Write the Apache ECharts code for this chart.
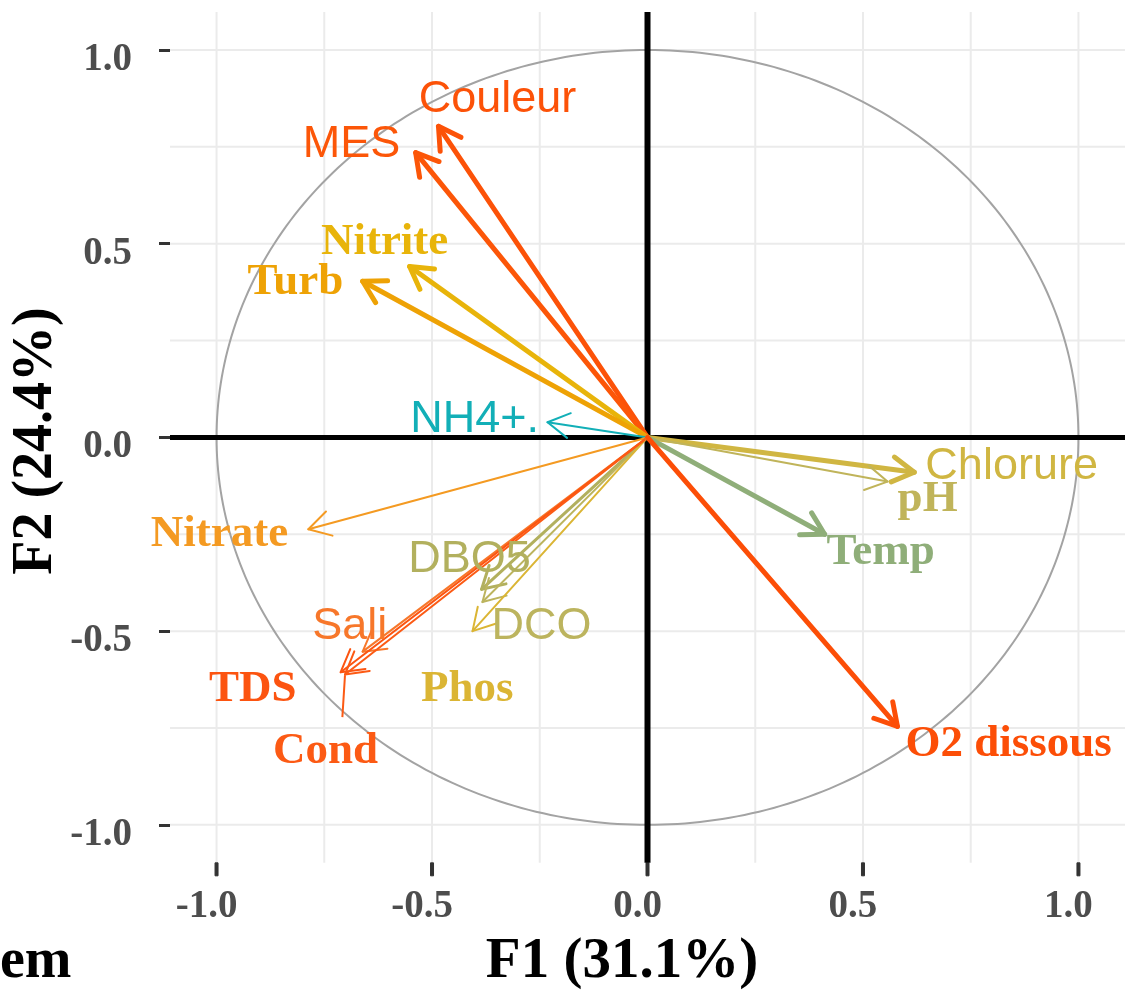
<!DOCTYPE html>
<html>
<head>
<meta charset="utf-8">
<title>Cercle des corrélations</title>
<script src="https://cdn.jsdelivr.net/npm/echarts@6/dist/echarts.min.js"></script>
<style>
  html, body { margin: 0; padding: 0; background: #fff; }
  #main { width: 1129px; height: 994px; }
</style>
</head>
<body>
<div id="main"></div>
<script>
// variables (ACP, cercle des corrélations F1 x F2)
var variables = ['Couleur', 'MES', 'Nitrite', 'Turb', 'NH4+.', 'Nitrate', 'DBO5', 'DCO', 'Phos',
  'Sali', 'TDS', 'Cond', 'Chlorure', 'pH', 'Temp', 'O2 dissous'];
var f1 = [-0.485, -0.538, -0.552, -0.661, -0.232, -0.787, -0.385, -0.383, -0.406,
  -0.661, -0.712, -0.702, 0.619, 0.557, 0.411, 0.580];
var f2 = [0.803, 0.735, 0.441, 0.403, 0.039, -0.237, -0.392, -0.425, -0.500,
  -0.553, -0.606, -0.612, -0.090, -0.114, -0.250, -0.746];
// label positions (repelled)
var labelF1 = [-0.348, -0.687, -0.610, -0.817, -0.401, -0.993, -0.413, -0.246, -0.418,
  -0.691, -0.916, -0.747, 0.845, 0.650, 0.541, 0.838];
var labelF2 = [0.872, 0.756, 0.503, 0.400, 0.046, -0.250, -0.315, -0.488, -0.650,
  -0.488, -0.650, -0.810, -0.075, -0.160, -0.297, -0.793];
// segment linking "Cond" label to its arrow
var repelSegment = [[-0.708, -0.722], [-0.702, -0.614]];

var tickValues = [-1, -0.5, 0, 0.5, 1];
var gridValues = [-1, -0.75, -0.5, -0.25, 0, 0.25, 0.5, 0.75, 1];

// panel limits (the y axis goes a bit lower to leave room for the x ticks)
var xLim = [-1.108, 1.108];
var yLim = [-1.098, 1.098];
var yAxisMin = -1.132;

// styles
var colors = {
  'Couleur': '#fc5208', 'MES': '#fc5608', 'Nitrite': '#e8b40a', 'Turb': '#eea205',
  'NH4+.': '#12afb7', 'Nitrate': '#f49a22', 'DBO5': '#b2b05e', 'DCO': '#bcb45e',
  'Phos': '#dbb534', 'Sali': '#f7772a', 'TDS': '#fc5410', 'Cond': '#fc5a14',
  'Chlorure': '#d0b642', 'pH': '#c0b45a', 'Temp': '#8fae79', 'O2 dissous': '#fc4e07'
};
var widths = {
  'Couleur': 5, 'MES': 5, 'Nitrite': 5, 'Turb': 5, 'NH4+.': 2, 'Nitrate': 2,
  'DBO5': 3, 'DCO': 2, 'Phos': 2, 'Sali': 2, 'TDS': 2, 'Cond': 2,
  'Chlorure': 5, 'pH': 2, 'Temp': 5, 'O2 dissous': 5
};
var serifLabels = ['Nitrite', 'Turb', 'Nitrate', 'TDS', 'Phos', 'Cond', 'pH', 'Temp', 'O2 dissous'];

var chart = echarts.init(document.getElementById('main'));

// grid lines, plus the x ticks under the panel
function renderGrid(params, api) {
  var cs = params.coordSys;
  var v = api.value(0);
  var top = api.coord([v, yLim[1]]);
  var bot = api.coord([v, yLim[0]]);
  var py = api.coord([0, v])[1];
  var st = { stroke: '#ebebeb', lineWidth: 2 };
  var children = [
    { type: 'line', shape: { x1: top[0], y1: top[1], x2: bot[0], y2: bot[1] }, style: st },
    { type: 'line', shape: { x1: cs.x, y1: py, x2: cs.x + cs.width, y2: py }, style: st }
  ];
  if (tickValues.indexOf(v) >= 0) {
    children.push({
      type: 'polyline', z2: 50,
      shape: { points: [[bot[0] - 1.5, bot[1]], [bot[0] + 1.5, bot[1]], [bot[0] + 1.5, bot[1] + 13], [bot[0] - 1.5, bot[1] + 13], [bot[0] - 1.5, bot[1]]] },
      style: { stroke: '#333', lineWidth: 1, fill: '#333' }
    });
  }
  return { type: 'group', children: children };
}

function renderCircle(params, api) {
  var pts = [];
  for (var k = 0; k <= 360; k++) {
    var a = k * Math.PI / 180;
    pts.push(api.coord([Math.cos(a), Math.sin(a)]));
  }
  return { type: 'polyline', shape: { points: pts }, style: { stroke: '#a3a3a3', lineWidth: 2, fill: null } };
}

function renderZero(params, api) {
  var cs = params.coordSys;
  var o = api.coord([0, 0]);
  var top = api.coord([0, yLim[1]]);
  var bot = api.coord([0, yLim[0]]);
  return {
    type: 'group', children: [
      { type: 'line', shape: { x1: cs.x, y1: o[1], x2: cs.x + cs.width, y2: o[1] }, style: { stroke: '#000', lineWidth: 5 } },
      { type: 'line', shape: { x1: o[0], y1: top[1], x2: o[0], y2: bot[1] }, style: { stroke: '#000', lineWidth: 6 } }
    ]
  };
}

function renderArrow(params, api) {
  var name = variables[params.dataIndex];
  var o = api.coord([0, 0]);
  var p = api.coord([api.value(0), api.value(1)]);
  var ang = Math.atan2(p[1] - o[1], p[0] - o[0]);
  var L = 25, a = Math.PI / 6;
  var h1 = [p[0] - L * Math.cos(ang - a), p[1] - L * Math.sin(ang - a)];
  var h2 = [p[0] - L * Math.cos(ang + a), p[1] - L * Math.sin(ang + a)];
  var st = { stroke: colors[name], lineWidth: widths[name], lineCap: 'round', lineJoin: 'round', fill: null };
  return {
    type: 'group', children: [
      { type: 'line', shape: { x1: o[0], y1: o[1], x2: p[0], y2: p[1] }, style: st },
      { type: 'polyline', shape: { points: [h1, p, h2] }, style: st }
    ]
  };
}

function renderLabel(params, api) {
  var name = variables[params.dataIndex];
  var c = api.coord([api.value(0), api.value(1)]);
  var serif = serifLabels.indexOf(name) >= 0;
  return {
    type: 'text', x: c[0], y: c[1],
    style: {
      text: name,
      fill: colors[name],
      font: serif ? 'bold 45px "Liberation Serif"' : '45px "Liberation Sans"',
      align: 'center', verticalAlign: 'middle',
      textAlign: 'center', textVerticalAlign: 'middle'
    }
  };
}

function renderSegment(params, api) {
  var a = api.coord(repelSegment[0]);
  var b = api.coord(repelSegment[1]);
  return { type: 'line', shape: { x1: a[0], y1: a[1], x2: b[0], y2: b[1] }, style: { stroke: colors['Cond'], lineWidth: 2 } };
}

var arrowData = variables.map(function (n, i) { return [f1[i], f2[i]]; });
var labelData = variables.map(function (n, i) { return [labelF1[i], labelF2[i]]; });

var tickFont = { fontFamily: 'Liberation Serif', fontWeight: 'bold', fontSize: 39, color: '#4d4d4d' };

var option = {
  animation: false,
  backgroundColor: '#fff',
  grid: { left: 170, right: 4, top: 12, bottom: 118 },
  xAxis: {
    type: 'value', min: xLim[0], max: xLim[1],
    axisLine: { show: false, onZero: false },
    splitLine: { show: false },
    axisTick: { show: false },
    axisLabel: Object.assign({
      customValues: tickValues, margin: 11, padding: [0, 20, 0, 0],
      formatter: function (v) { return v.toFixed(1); }
    }, tickFont)
  },
  yAxis: {
    type: 'value', min: yAxisMin, max: yLim[1],
    axisLine: { show: false, onZero: false },
    splitLine: { show: false },
    axisTick: { show: true, customValues: tickValues, length: 11, lineStyle: { color: '#333', width: 3 } },
    axisLabel: Object.assign({
      customValues: tickValues, margin: 38, verticalAlign: 'top', lineHeight: 20,
      formatter: function (v) { return v.toFixed(1); }
    }, tickFont)
  },
  graphic: [
    { type: 'text', x: 622, y: 962, style: { text: 'F1 (31.1%)', font: 'bold 57px "Liberation Serif"', fill: '#000', align: 'center', verticalAlign: 'middle', textAlign: 'center', textVerticalAlign: 'middle' } },
    { type: 'text', x: 37, y: 441, rotation: Math.PI / 2, style: { text: 'F2 (24.4%)', font: 'bold 56px "Liberation Serif"', fill: '#000', align: 'center', verticalAlign: 'middle', textAlign: 'center', textVerticalAlign: 'middle' } },
    { type: 'text', x: 0, y: 963, style: { text: 'em', font: 'bold 56px "Liberation Serif"', fill: '#000', align: 'left', verticalAlign: 'middle', textAlign: 'left', textVerticalAlign: 'middle' } }
  ],
  series: [
    { type: 'custom', z: 1, silent: true, clip: false, renderItem: renderGrid, encode: { x: 0, y: 1 }, data: gridValues.map(function (v) { return [v, v]; }) },
    { type: 'custom', z: 2, silent: true, renderItem: renderCircle, encode: { x: 0, y: 1 }, data: [[0, 0]] },
    { type: 'custom', z: 3, silent: true, renderItem: renderZero, encode: { x: 0, y: 1 }, data: [[0, 0]] },
    { type: 'custom', z: 4, silent: true, clip: false, renderItem: renderArrow, encode: { x: 0, y: 1 }, data: arrowData },
    { type: 'custom', z: 5, silent: true, clip: false, renderItem: renderSegment, encode: { x: 0, y: 1 }, data: [repelSegment[0]] },
    { type: 'custom', z: 6, silent: true, clip: false, renderItem: renderLabel, encode: { x: 0, y: 1 }, data: labelData }
  ]
};

chart.setOption(option);
</script>
</body>
</html>
